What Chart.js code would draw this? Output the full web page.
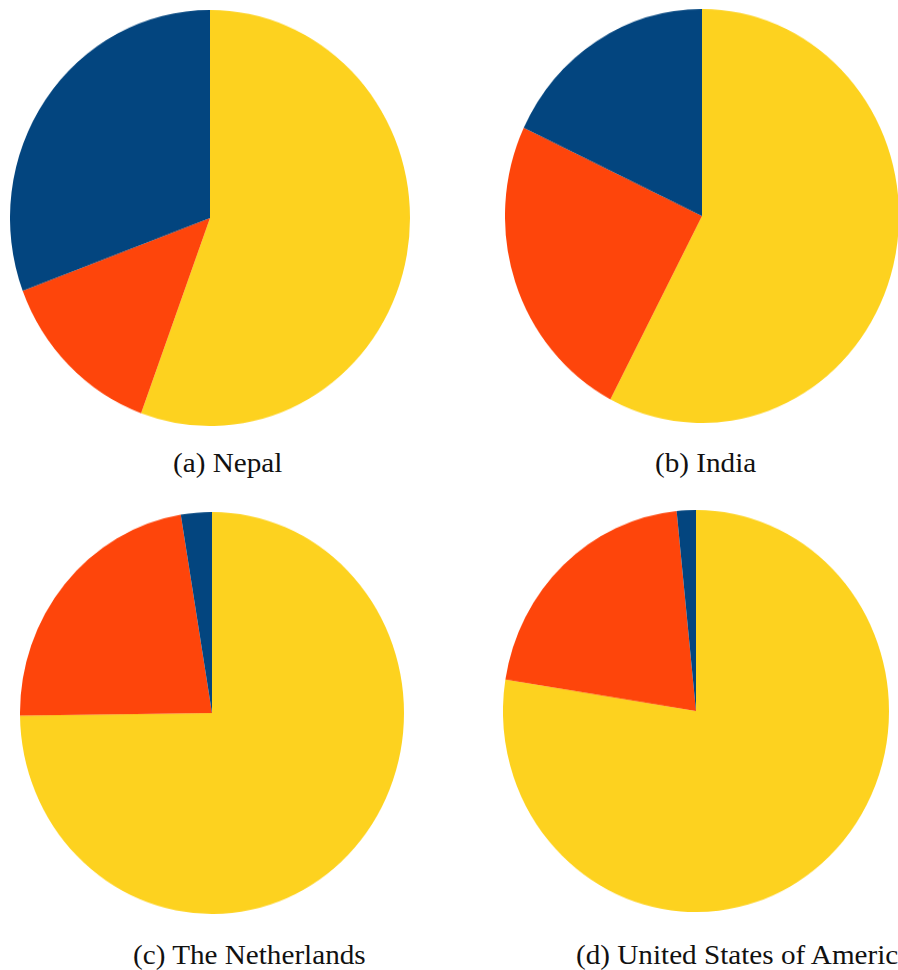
<!DOCTYPE html>
<html>
<head>
<meta charset="utf-8">
<script src="https://cdn.jsdelivr.net/npm/chart.js@4/dist/chart.umd.min.js"></script>
<style>
  html, body { margin: 0; padding: 0; background: #ffffff; overflow: hidden; }
  body { width: 898px; height: 970px; position: relative; }
  canvas { position: absolute; display: block; }
  .cap {
    position: absolute;
    font-family: "Liberation Serif", "DejaVu Serif", serif;
    font-size: 27px;
    color: #111;
    white-space: nowrap;
    line-height: 1;
    transform-origin: 0 50%;
  }
</style>
</head>
<body>
<canvas id="pieA" width="400" height="400" style="left:10px;top:10px;width:400px;height:416px;"></canvas>
<canvas id="pieB" width="394" height="394" style="left:505px;top:9px;width:394px;height:414px;"></canvas>
<canvas id="pieC" width="384" height="384" style="left:20px;top:512px;width:384px;height:402px;"></canvas>
<canvas id="pieD" width="386" height="386" style="left:503px;top:510px;width:386px;height:402px;"></canvas>

<div class="cap" id="capA"></div>
<div class="cap" id="capB"></div>
<div class="cap" id="capC"></div>
<div class="cap" id="capD"></div>

<script>
// Countries, one pie each, with their caption letters
const countries = ['Nepal', 'India', 'The Netherlands', 'United States of America'];
const captionLetters = ['a', 'b', 'c', 'd'];

// Share of each segment per country (percent), in clockwise order from 12 o'clock
const segmentLabels = ['Segment 1', 'Segment 2', 'Segment 3'];
const yellowShare = [55.6, 57.7, 74.8, 77.5];
const orangeShare = [13.7, 24.3, 22.6, 20.9];
const blueShare   = [30.7, 18.0, 2.6, 1.6];

const segmentColors = ['#FDD21F', '#FE450B', '#03457F'];

const canvasIds = ['pieA', 'pieB', 'pieC', 'pieD'];

canvasIds.forEach((id, i) => {
  new Chart(document.getElementById(id), {
    type: 'pie',
    data: {
      labels: segmentLabels,
      datasets: [{
        data: [yellowShare[i], orangeShare[i], blueShare[i]],
        backgroundColor: segmentColors,
        borderWidth: 0,
        hoverOffset: 0
      }]
    },
    options: {
      responsive: false,
      animation: false,
      layout: { padding: 0 },
      plugins: {
        legend: { display: false },
        tooltip: { enabled: false }
      }
    }
  });
});

// Captions under each pie (serif text widened slightly)
const capStretch = 1.08;
const capPlacement = [
  { id: 'capA', cx: 228, cy: 463, align: 'center' },
  { id: 'capB', cx: 706, cy: 463, align: 'center' },
  { id: 'capC', cx: 249, cy: 955, align: 'center' },
  { id: 'capD', cx: 576, cy: 955, align: 'left' }
];
capPlacement.forEach((p, i) => {
  const el = document.getElementById(p.id);
  el.textContent = '(' + captionLetters[i] + ') ' + countries[i];
  el.style.transform = 'scaleX(' + capStretch + ')';
  const w = el.offsetWidth * capStretch, h = el.offsetHeight;
  el.style.left = (p.align === 'center' ? p.cx - w / 2 : p.cx) + 'px';
  el.style.top = (p.cy - h / 2) + 'px';
});
</script>
</body>
</html>
